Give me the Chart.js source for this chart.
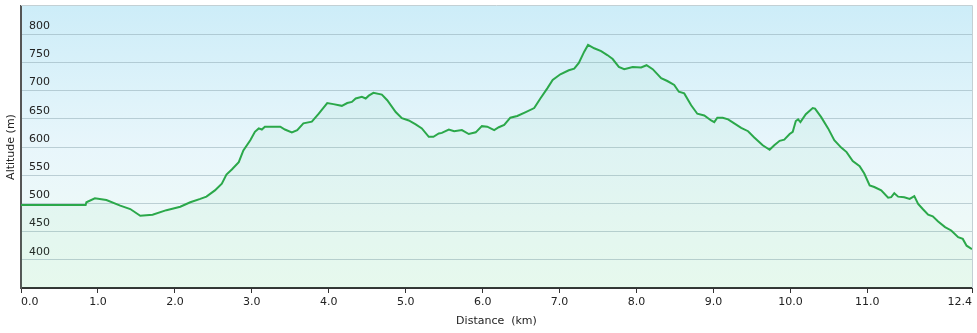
<!DOCTYPE html>
<html><head><meta charset="utf-8">
<script src="https://cdn.jsdelivr.net/npm/chart.js@4"></script>
<style>html,body{margin:0;padding:0;background:#fff;}#wrap{width:977px;height:333px;}</style>
</head><body><div id="wrap"><canvas id="c" width="977" height="333"></canvas></div>
<script>
const distanceKm = [0, 0.84, 0.85, 0.96, 1.11, 1.29, 1.42, 1.55, 1.71, 1.89, 2.07, 2.20, 2.33, 2.41, 2.52, 2.61, 2.67, 2.74, 2.83, 2.89, 2.98, 3.04, 3.09, 3.13, 3.17, 3.37, 3.43, 3.52, 3.59, 3.67, 3.78, 3.87, 3.98, 4.06, 4.17, 4.24, 4.30, 4.35, 4.43, 4.48, 4.52, 4.58, 4.69, 4.76, 4.87, 4.95, 5.04, 5.13, 5.21, 5.30, 5.36, 5.43, 5.47, 5.56, 5.63, 5.73, 5.82, 5.91, 5.99, 6.06, 6.15, 6.21, 6.28, 6.36, 6.45, 6.56, 6.67, 6.75, 6.84, 6.91, 7.01, 7.12, 7.19, 7.25, 7.32, 7.37, 7.45, 7.54, 7.62, 7.69, 7.77, 7.84, 7.95, 8.06, 8.13, 8.21, 8.32, 8.40, 8.49, 8.55, 8.62, 8.71, 8.79, 8.88, 8.97, 9.01, 9.05, 9.12, 9.19, 9.27, 9.36, 9.45, 9.53, 9.64, 9.73, 9.79, 9.86, 9.92, 9.99, 10.03, 10.07, 10.10, 10.13, 10.20, 10.29, 10.32, 10.40, 10.49, 10.57, 10.66, 10.73, 10.81, 10.90, 10.96, 11.03, 11.09, 11.18, 11.27, 11.31, 11.35, 11.40, 11.48, 11.55, 11.61, 11.66, 11.72, 11.79, 11.85, 11.92, 12.01, 12.09, 12.18, 12.24, 12.29, 12.36];
const altitudeM = [497, 497, 502, 509, 506, 496, 490, 478, 480, 488, 494, 502, 508, 512, 523, 535, 551, 560, 573, 594, 612, 627, 633, 631, 636, 636, 631, 626, 630, 642, 645, 659, 678, 676, 673, 678, 680, 686, 689, 686, 691, 696, 693, 683, 662, 651, 647, 640, 633, 618, 618, 624, 625, 631, 628, 630, 623, 626, 637, 636, 630, 635, 639, 652, 655, 662, 669, 686, 704, 719, 729, 736, 739, 749, 769, 781, 775, 770, 763, 756, 742, 738, 742, 741, 745, 738, 722, 717, 710, 698, 695, 674, 659, 656, 647, 644, 652, 652, 649, 642, 634, 628, 617, 603, 595, 603, 611, 613, 623, 627, 646, 649, 644, 658, 669, 668, 653, 633, 612, 599, 591, 575, 566, 553, 532, 529, 523, 510, 511, 518, 512, 511, 508, 513, 499, 490, 480, 477, 468, 458, 452, 440, 437, 425, 419];
const yTickValues = [400, 450, 500, 550, 600, 650, 700, 750, 800];
const xTickValues = [0, 1, 2, 3, 4, 5, 6, 7, 8, 9, 10, 11, 12.36];
const yMin = 350, yMax = 850;
const xMax = 12.36;

const points = distanceKm.map((d, i) => ({x: d, y: altitudeM[i]}));
const FONT = {family: "'DejaVu Sans', Verdana, sans-serif", size: 11};

const bgPlugin = {
  id: 'bg',
  beforeDraw(chart) {
    const {ctx, chartArea: {left, top, right, bottom}} = chart;
    const g = ctx.createLinearGradient(0, top, 0, bottom);
    g.addColorStop(0, '#cdedf8');
    g.addColorStop(0.5, '#e8f6fb');
    g.addColorStop(1, '#f2fcf5');
    ctx.save();
    ctx.fillStyle = g;
    ctx.fillRect(left, top, right - left, bottom - top);
    ctx.restore();
  },
  afterDraw(chart) {
    const {ctx, chartArea: {left, top, right, bottom}} = chart;
    ctx.save();
    ctx.strokeStyle = '#c3d0d4';
    ctx.lineWidth = 1;
    ctx.beginPath();
    ctx.moveTo(left, top - 0.5);
    ctx.lineTo(right + 0.5, top - 0.5);
    ctx.lineTo(right + 0.5, bottom);
    ctx.stroke();
    ctx.restore();
  }
};

new Chart(document.getElementById('c'), {
  type: 'line',
  data: {
    datasets: [{
      data: points,
      borderColor: '#2ba84a',
      borderWidth: 2,
      backgroundColor: 'rgba(70,210,120,0.06)',
      fill: 'start',
      pointRadius: 0,
      tension: 0
    }]
  },
  options: {
    responsive: false,
    animation: false,
    devicePixelRatio: 1,
    layout: {padding: {top: 6, right: 5, left: 0, bottom: 0}},
    plugins: {legend: {display: false}, tooltip: {enabled: false}},
    scales: {
      x: {
        type: 'linear',
        min: 0,
        max: xMax,
        afterBuildTicks(scale) { scale.ticks = xTickValues.map(v => ({value: v})); },
        afterFit(scale) { scale.height = 45; },
        ticks: {
          callback: v => Number(v).toFixed(1),
          align: 'inner',
          autoSkip: false,
          maxRotation: 0,
          font: FONT,
          color: '#222',
          padding: 3
        },
        grid: {drawOnChartArea: false, drawTicks: true, tickLength: 5, tickColor: '#333', tickWidth: 1},
        border: {color: '#333', width: 2},
        title: {display: true, text: 'Distance  (km)', font: FONT, color: '#222', padding: {top: 0, bottom: 5}}
      },
      y: {
        type: 'linear',
        min: yMin,
        max: yMax,
        afterBuildTicks(scale) { scale.ticks = yTickValues.map(v => ({value: v})); },
        afterFit(scale) { scale.width = 21; scale.paddingTop = 0; scale.paddingBottom = 0; },
        ticks: {
          mirror: true,
          padding: 8,
          labelOffset: -8,
          font: FONT,
          color: '#222'
        },
        grid: {drawTicks: false, color: 'rgba(140,165,175,0.5)', lineWidth: 1},
        border: {color: '#555', width: 2},
        title: {display: true, text: 'Altitude (m)', font: FONT, color: '#222', padding: {top: 5, bottom: 0}}
      }
    }
  },
  plugins: [bgPlugin]
});
</script>
</body></html>
